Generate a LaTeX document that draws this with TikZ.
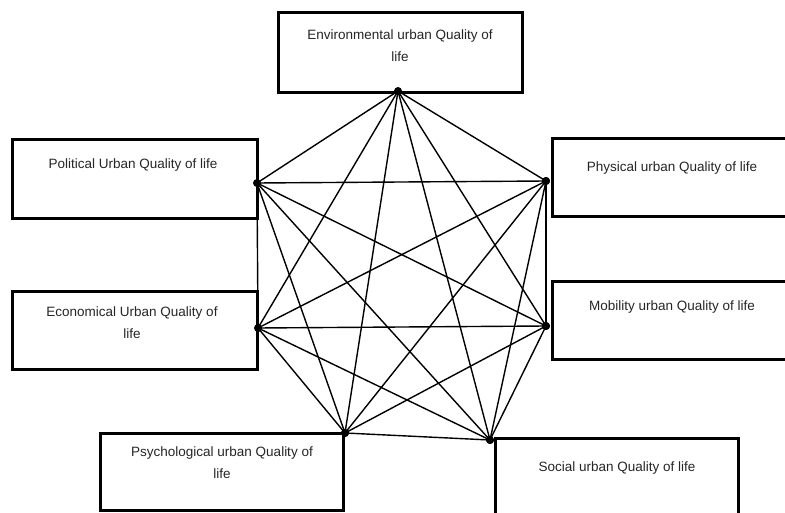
\documentclass[tikz,border=0pt]{standalone}
\usepackage{fontspec}
\setmainfont{Liberation Sans}
\begin{document}
\begin{tikzpicture}[x=1pt,y=-1pt,
  qbox/.style={draw=black,line width=3pt,fill=white,rectangle,inner sep=0pt},
  qtext/.style={font=\fontsize{13.5}{22}\selectfont,text=black!85,align=center,inner sep=0pt},
  qdot/.style={circle,fill=black,inner sep=0pt,minimum size=8pt},
  qedge/.style={line width=1.4pt,black}]
\useasboundingbox (0,0) rectangle (785,513);
\clip (0,0) rectangle (785,513);
\fill[white] (0,0) rectangle (785,513);
% edges first (under boxes)
\node[qdot] (E)  at (398,91) {};
\node[qdot] (Po) at (257,183) {};
\node[qdot] (Ph) at (546,181) {};
\node[qdot] (Ec) at (258,328) {};
\node[qdot] (M)  at (546,326) {};
\node[qdot] (Ps) at (345,433) {};
\node[qdot] (S)  at (490,440) {};
\foreach \a/\b in {E/Po,E/Ph,E/Ec,E/M,E/Ps,E/S,
                   Po/Ph,Po/Ec,Po/M,Po/Ps,Po/S,
                   Ph/Ec,Ph/M,Ph/Ps,Ph/S,
                   Ec/M,Ec/Ps,Ec/S,
                   M/Ps,M/S,
                   Ps/S}
  \draw[qedge] (\a.center) -- (\b.center);
% boxes
\draw[qbox] (278,13) rectangle (522,93);
\draw[qbox] (12,140) rectangle (257,219);
\draw[qbox] (552,139) rectangle (800,217);
\draw[qbox] (12,292) rectangle (257,369);
\draw[qbox] (552,282) rectangle (800,359);
\draw[qbox] (100,433) rectangle (343,510);
\draw[qbox] (495,438) rectangle (738,530);
% dots on top
\foreach \d in {E,Po,Ph,Ec,M,Ps,S} \fill (\d) circle (4pt);
% labels
\node[qtext] (tE)  at (400,46) {Environmental urban Quality of\\life};
\node[qtext] (tPo) at (133,165) {Political Urban Quality of life};
\node[qtext] (tPh) at (672,168) {Physical urban Quality of life};
\node[qtext] (tEc) at (132,323) {Economical Urban Quality of\\life};
\node[qtext] (tM)  at (672,307) {Mobility urban Quality of life};
\node[qtext] (tPs) at (222,463) {Psychological urban Quality of\\life};
\node[qtext] (tS)  at (617,468) {Social urban Quality of life};
\end{tikzpicture}
\end{document}
